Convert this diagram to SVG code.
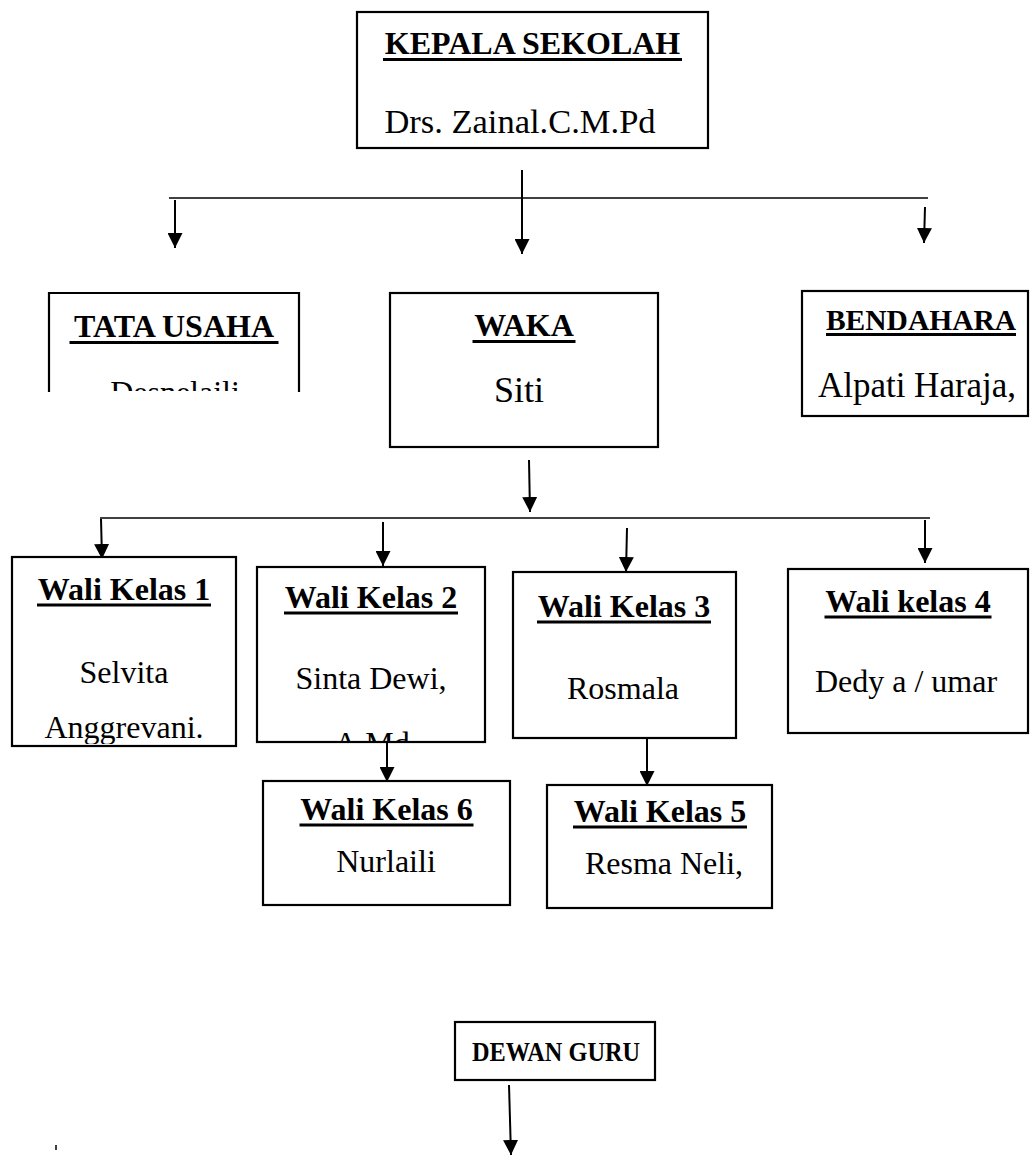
<svg xmlns="http://www.w3.org/2000/svg" width="1030" height="1159" viewBox="0 0 1030 1159">
<defs>
<marker id="ah" viewBox="0 0 10 10" refX="10" refY="5" markerWidth="15" markerHeight="15" markerUnits="userSpaceOnUse" orient="auto"><path d="M0,0 L10,5 L0,10 z" fill="#000"/></marker>
<clipPath id="cTU"><rect x="50" y="294" width="248" height="97"/></clipPath>
<clipPath id="cW1"><rect x="13" y="558" width="222" height="186"/></clipPath>
<clipPath id="cW2"><rect x="258" y="568" width="226" height="173"/></clipPath>
</defs>
<style>
.box{fill:#fff;stroke:#000;stroke-width:2.2}
.t{font-family:"Liberation Serif","Times New Roman",serif;font-weight:bold;font-size:32px;text-anchor:middle;fill:#000}
.n{font-family:"Liberation Serif","Times New Roman",serif;font-size:32px;text-anchor:middle;fill:#000}
.ul{stroke:#000;stroke-width:3}
.c{stroke:#000;stroke-width:2;fill:none}
.h{stroke:#000;stroke-width:1.4;fill:none}
</style>
<rect width="1030" height="1159" fill="#fff"/>

<g id="connectors">
<line class="h" x1="169" y1="198" x2="928" y2="198"/>
<line class="c" x1="522" y1="170" x2="522" y2="254" marker-end="url(#ah)"/>
<line class="c" x1="175" y1="200" x2="175" y2="248" marker-end="url(#ah)"/>
<line class="c" x1="925" y1="207" x2="924" y2="243" marker-end="url(#ah)"/>
<line class="c" x1="529" y1="460" x2="530" y2="512" marker-end="url(#ah)"/>
<line class="h" x1="100" y1="518" x2="930" y2="518"/>
<line class="c" x1="101" y1="519" x2="102" y2="559" marker-end="url(#ah)"/>
<line class="c" x1="383" y1="522" x2="383" y2="566" marker-end="url(#ah)"/>
<line class="c" x1="627" y1="528" x2="626" y2="572" marker-end="url(#ah)"/>
<line class="c" x1="925" y1="520" x2="925" y2="563" marker-end="url(#ah)"/>
<line class="c" x1="387" y1="727" x2="387" y2="782" marker-end="url(#ah)"/>
<line class="c" x1="647" y1="735" x2="647" y2="786" marker-end="url(#ah)"/>
<line class="c" x1="509" y1="1085" x2="511" y2="1155" marker-end="url(#ah)"/>
</g>

<g id="kepala-sekolah">
<rect class="box" x="357" y="12" width="351" height="136"/>
<text class="t" x="532.5" y="54">KEPALA SEKOLAH</text>
<line class="ul" x1="383" y1="59.5" x2="682" y2="59.5"/>
<text class="n" x="520" y="133" style="font-size:34.5px">Drs. Zainal.C.M.Pd</text>
</g>

<g id="tata-usaha">
<path class="box" d="M49,392 V293 H299 V392"/>
<text class="t" x="174" y="337">TATA USAHA</text>
<line class="ul" x1="69.5" y1="342.5" x2="278.5" y2="342.5"/>
<text class="n" x="175" y="403" clip-path="url(#cTU)">Desnelaili</text>
</g>

<g id="waka">
<rect class="box" x="390" y="293" width="268" height="154"/>
<text class="t" x="524" y="336">WAKA</text>
<line class="ul" x1="472.5" y1="341.5" x2="575.5" y2="341.5"/>
<text class="n" x="519" y="402" style="font-size:36px">Siti</text>
</g>

<g id="bendahara">
<rect class="box" x="802" y="291" width="226" height="125"/>
<text class="t" x="921" y="330" style="font-size:29.5px">BENDAHARA</text>
<line class="ul" x1="826" y1="334.5" x2="1016" y2="334.5"/>
<text class="n" x="917" y="397" style="font-size:35px">Alpati Haraja,</text>
</g>

<g id="wali-kelas-1">
<rect class="box" x="12" y="557" width="224" height="189"/>
<text class="t" x="124" y="600">Wali Kelas 1</text>
<line class="ul" x1="37" y1="605" x2="211" y2="605"/>
<text class="n" x="124" y="683">Selvita</text>
<text class="n" x="124" y="738" clip-path="url(#cW1)">Anggrevani.</text>
</g>

<g id="wali-kelas-2">
<rect class="box" x="257" y="567" width="228" height="175"/>
<text class="t" x="371" y="608">Wali Kelas 2</text>
<line class="ul" x1="284" y1="613" x2="458" y2="613"/>
<text class="n" x="371" y="689">Sinta Dewi,</text>
<text class="n" x="372" y="754" clip-path="url(#cW2)">A.Md</text>
</g>

<g id="wali-kelas-3">
<rect class="box" x="513" y="572" width="223" height="166"/>
<text class="t" x="624" y="617">Wali Kelas 3</text>
<line class="ul" x1="537" y1="622" x2="711" y2="622"/>
<text class="n" x="623" y="699">Rosmala</text>
</g>

<g id="wali-kelas-4">
<rect class="box" x="788" y="569" width="240" height="164"/>
<text class="t" x="908" y="612">Wali kelas 4</text>
<line class="ul" x1="824.5" y1="617" x2="991.5" y2="617"/>
<text class="n" x="906" y="692">Dedy a / umar</text>
</g>

<g id="wali-kelas-6">
<rect class="box" x="263" y="781" width="247" height="124"/>
<text class="t" x="386.5" y="820">Wali Kelas 6</text>
<line class="ul" x1="299.5" y1="825" x2="473.5" y2="825"/>
<text class="n" x="386" y="872">Nurlaili</text>
</g>

<g id="wali-kelas-5">
<rect class="box" x="547" y="785" width="225" height="123"/>
<text class="t" x="660" y="822">Wali Kelas 5</text>
<line class="ul" x1="573" y1="827" x2="747" y2="827"/>
<text class="n" x="664" y="874">Resma Neli,</text>
</g>

<g id="dewan-guru">
<rect class="box" x="455" y="1022" width="200" height="58"/>
<text class="t" x="556" y="1061" style="font-size:27px" textLength="168" lengthAdjust="spacingAndGlyphs">DEWAN GURU</text>
</g>

<g id="mark">
<line x1="56" y1="1145" x2="56" y2="1150" stroke="#000" stroke-width="1.5"/>
</g>
</svg>
